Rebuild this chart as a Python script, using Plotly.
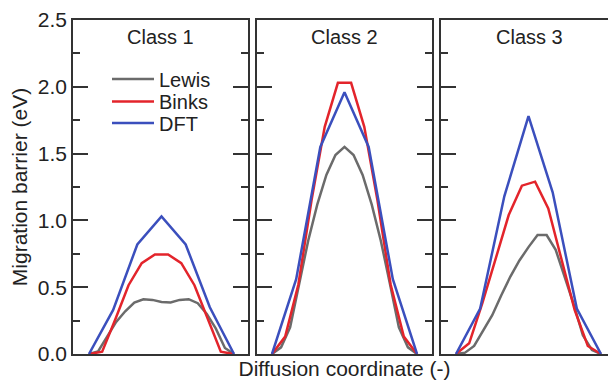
import plotly.graph_objects as go

# ---------------- data ----------------
classes = ["Class 1", "Class 2", "Class 3"]
series_names = ["Lewis", "Binks", "DFT"]

lewis_coord = [0.0, 0.0625, 0.125, 0.1875, 0.25, 0.3125, 0.375, 0.4375, 0.5,
               0.5625, 0.625, 0.6875, 0.75, 0.8125, 0.875, 0.9375, 1.0]
binks_coord = [0.0, 0.0909, 0.1818, 0.2727, 0.3636, 0.4545, 0.5455, 0.6364,
               0.7273, 0.8182, 0.9091, 1.0]
dft_coord = [0.0, 0.1667, 0.3333, 0.5, 0.6667, 0.8333, 1.0]

lewis_c1 = [0, 0.02, 0.13, 0.24, 0.32, 0.385, 0.41, 0.405, 0.39, 0.385, 0.405, 0.41, 0.38, 0.30, 0.19, 0.045, 0]
binks_c1 = [0, 0.017, 0.26, 0.515, 0.68, 0.745, 0.745, 0.68, 0.515, 0.27, 0.017, 0]
dft_c1 = [0, 0.33, 0.82, 1.03, 0.82, 0.35, 0]

lewis_c2 = [0, 0.05, 0.20, 0.53, 0.85, 1.12, 1.34, 1.49, 1.55, 1.49, 1.34, 1.12, 0.85, 0.53, 0.20, 0.05, 0]
binks_c2 = [0, 0.13, 0.52, 1.15, 1.70, 2.03, 2.03, 1.70, 1.15, 0.52, 0.13, 0]
dft_c2 = [0, 0.56, 1.55, 1.96, 1.55, 0.56, 0]

lewis_c3 = [0, 0.01, 0.06, 0.17, 0.29, 0.44, 0.58, 0.70, 0.80, 0.89, 0.89, 0.78, 0.58, 0.37, 0.14, 0.03, 0]
binks_c3 = [0, 0.08, 0.38, 0.72, 1.04, 1.26, 1.29, 1.09, 0.72, 0.33, 0.06, 0]
dft_c3 = [0, 0.34, 1.18, 1.78, 1.21, 0.34, 0]

y_tick_vals = [0.0, 0.5, 1.0, 1.5, 2.0, 2.5]
y_tick_text = ["0.0", "0.5", "1.0", "1.5", "2.0", "2.5"]

# ---------------- style ----------------
FONT = "Liberation Sans, Arial, sans-serif"
TXT = "#222222"
FRAME = "#333333"
colors = {"Lewis": "#6b6b6b", "Binks": "#e3242b", "DFT": "#3b4fbd"}
W, H = 608, 383
ML, MR, MT, MB = 73, 0, 20, 29
PW = W - ML - MR
PH = H - MT - MB

def px(a):
    return (a - ML) / PW

def py(b):
    return (H - MB - b) / PH

domains = [[px(73), px(248)], [px(257), px(432)], [px(441), 1.0]]
xranges = [[-0.1103, 1.0966], [-0.1034, 1.1034], [-0.1034, 1.0483]]

data = [
    (lewis_c1, binks_c1, dft_c1),
    (lewis_c2, binks_c2, dft_c2),
    (lewis_c3, binks_c3, dft_c3),
]

fig = go.Figure()
legend_ids = {"Lewis": "legend", "Binks": "legend2", "DFT": "legend3"}
for i, (lw, bk, dft) in enumerate(data):
    xa = "x" if i == 0 else f"x{i+1}"
    ya = "y" if i == 0 else f"y{i+1}"
    for name, coord, vals in (("Lewis", lewis_coord, lw), ("Binks", binks_coord, bk), ("DFT", dft_coord, dft)):
        fig.add_trace(go.Scatter(
            x=coord, y=vals, mode="lines", name=name,
            line=dict(color=colors[name], width=2.5),
            xaxis=xa, yaxis=ya, showlegend=(i == 0),
            legend=legend_ids[name],
        ))

tick_common = dict(
    range=[0, 2.5], tickmode="array", tickvals=y_tick_vals, ticktext=y_tick_text,
    ticks="inside", ticklen=15, tickwidth=1.5, tickcolor=FRAME,
    minor=dict(dtick=0.25, tick0=0, ticks="inside", ticklen=7, tickwidth=1.5, tickcolor=FRAME),
    showgrid=False, zeroline=False, showline=True, linecolor=FRAME, linewidth=1.5,
    tickfont=dict(family=FONT, size=21, color=TXT), automargin=False,
)

layout = dict(
    width=W, height=H, margin=dict(l=ML, r=MR, t=MT, b=MB, autoexpand=False),
    paper_bgcolor="white", plot_bgcolor="white",
    font=dict(family=FONT, size=20, color=TXT),
)
for i in range(3):
    xk = "xaxis" if i == 0 else f"xaxis{i+1}"
    yk = "yaxis" if i == 0 else f"yaxis{i+1}"
    xa_anchor = "y" if i == 0 else f"y{i+1}"
    ya_anchor = "x" if i == 0 else f"x{i+1}"
    layout[xk] = dict(domain=domains[i], range=xranges[i], anchor=xa_anchor,
                      showticklabels=False, ticks="", showgrid=False, zeroline=False,
                      showline=True, linecolor=FRAME, linewidth=1.5, mirror=True,
                      automargin=False)
    yd = dict(tick_common)
    yd["anchor"] = ya_anchor
    yd["domain"] = [0, 1]
    yd["mirror"] = "ticks" if i < 2 else False
    yd["showticklabels"] = (i == 0)
    layout[yk] = yd

layout["yaxis"]["title"] = dict(text="Migration barrier (eV)", font=dict(family=FONT, size=21, color=TXT), standoff=4)
layout["xaxis2"]["title"] = dict(text="Diffusion coordinate (-)", font=dict(family=FONT, size=21, color=TXT), standoff=7)

# right-hand ticks of the cut-off third panel
layout["yaxis4"] = dict(overlaying="y3", anchor="free", position=px(602), side="right",
                        range=[0, 2.5], tickmode="array", tickvals=y_tick_vals,
                        ticks="outside", ticklen=6, tickwidth=1.5, tickcolor=FRAME,
                        minor=dict(dtick=0.25, tick0=0, ticks="outside", ticklen=6, tickwidth=1.5, tickcolor=FRAME),
                        showticklabels=False, showline=False, showgrid=False, zeroline=False,
                        automargin=False)

leg_rows = {"legend": 79, "legend2": 101.5, "legend3": 123}
for lid, ypx in leg_rows.items():
    layout[lid] = dict(xref="paper", yref="paper", x=px(107), y=py(ypx),
                       xanchor="left", yanchor="middle", bgcolor="rgba(0,0,0,0)",
                       font=dict(family=FONT, size=20, color=TXT), itemwidth=42,
                       borderwidth=0)

fig.update_layout(**layout)

for i, c in enumerate(classes):
    xr = "x domain" if i == 0 else f"x{i+1} domain"
    yr = "y domain" if i == 0 else f"y{i+1} domain"
    fig.add_annotation(text=c, xref=xr, yref=yr, x=0.5 if i < 2 else (176 / 2) / 167, y=py(37),
                       showarrow=False, xanchor="center", yanchor="middle",
                       font=dict(family=FONT, size=20, color=TXT))

fig.write_html("out.html")
